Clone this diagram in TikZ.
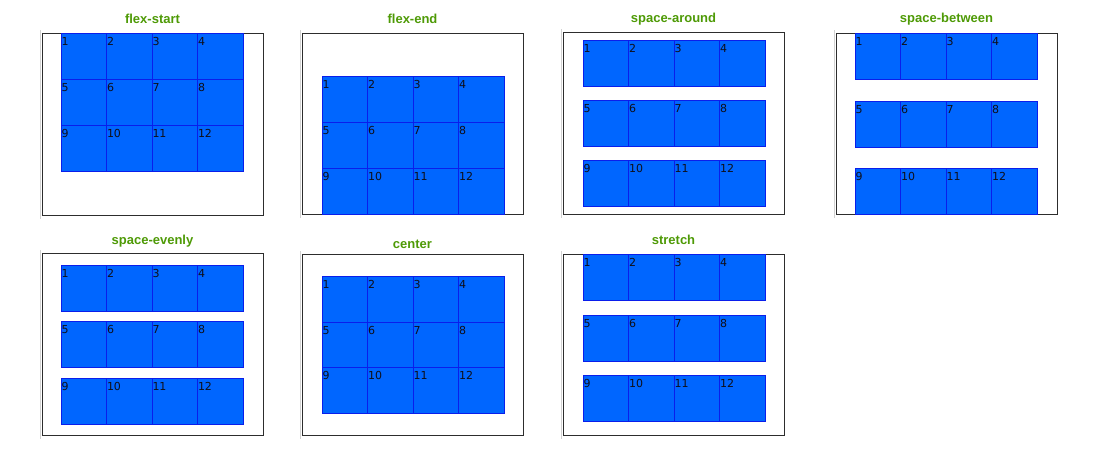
\documentclass[tikz,border=0pt]{standalone}
\usepackage{fontspec}
\newfontfamily\titlefont{Liberation Sans}
\newfontfamily\cellfont{DejaVu Sans}
\definecolor{itemblue}{RGB}{0,102,255}
\definecolor{lineblue}{RGB}{10,30,235}
\definecolor{titlegreen}{RGB}{78,154,6}
\definecolor{boxgray}{RGB}{45,45,45}
\tikzset{
  container/.style={draw=boxgray, line width=1pt, inner sep=0pt, outer sep=0pt,
    minimum width=221pt, anchor=north west},
  item/.style={fill=itemblue, draw=lineblue, line width=0.8pt, inner sep=0pt, outer sep=0pt,
    minimum width=45.5pt, minimum height=46pt, anchor=north west},
  itemnum/.style={anchor=base west, inner sep=0pt, text={rgb,255:red,15;green,15;blue,25},
    font=\cellfont\fontsize{11}{13}\selectfont},
  paneltitle/.style={text=titlegreen, font=\titlefont\bfseries\fontsize{13}{15}\selectfont},
}
% #1 name, #2 box left, #3 box top, #4 box bottom, #5 title y, #6 title,
% #7 item left, #8 row tops
\newcommand{\flexpanel}[8]{%
  \node[container, minimum height={(#4-#3)*1pt}] (#1) at (#2,#3) {};
  \draw[gray!35] ([xshift=-2pt,yshift=3pt]#1.north west) -- ([xshift=-2pt,yshift=-4pt]#1.south west);
  \node[paneltitle] (#1-title) at ({#2+110.5},#5) {#6};
  \foreach \r [count=\ri from 0] in {#8} {
    \foreach \c in {1,...,4} {
      \pgfmathtruncatemacro\k{4*\ri+\c}
      \node[item] (#1-\k) at ({#7+(\c-1)*45.5},\r) {};
      \node[itemnum] at ([xshift=0.3pt,yshift=-12pt]#1-\k.north west) {\k};
    }
  }
}
\begin{document}
\begin{tikzpicture}[x=1pt, y=-1pt]
\useasboundingbox (0,0) rectangle (1094,456);
\flexpanel{start}{42}{33}{215}{19}{flex-start}{61}{33,79,125}
\flexpanel{end}{302}{33}{214}{19}{flex-end}{322}{76,122,168}
\flexpanel{around}{563}{32}{214}{19}{space-around}{583}{40,100,160}
\flexpanel{between}{836}{33}{214}{19}{space-between}{855}{33,101,168}
\flexpanel{evenly}{42}{253}{435}{241}{space-evenly}{61}{265,321,378}
\flexpanel{center}{302}{254}{435}{244}{center}{322}{276,322,367}
\flexpanel{stretch}{563}{254}{435}{240}{stretch}{583}{254,315,375}
\end{tikzpicture}
\end{document}
